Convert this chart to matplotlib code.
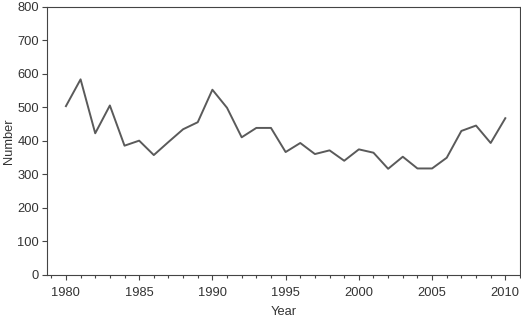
import matplotlib
matplotlib.use('Agg')
import matplotlib.pyplot as plt
from matplotlib.ticker import MultipleLocator

plt.rcParams['font.family'] = ['Liberation Sans', 'DejaVu Sans']

# data
years = list(range(1980, 2011))
number = [504, 584, 423, 506, 386, 401, 358, 397, 435, 456,
          553, 499, 411, 439, 439, 367, 394, 361, 372, 341,
          375, 365, 317, 353, 318, 318, 350, 430, 446, 394, 468]

fig = plt.figure(figsize=(5.21, 3.17), dpi=100)
ax = fig.add_axes([0.090, 0.1325, 0.908, 0.8455])

ax.plot(years, number, color='#5a5a5a', lw=1.4)

ax.set_xlim(1978.7, 2011.0)
ax.set_ylim(0, 800)
ax.xaxis.set_major_locator(MultipleLocator(5))
ax.xaxis.set_minor_locator(MultipleLocator(1))
ax.yaxis.set_major_locator(MultipleLocator(100))

for s in ax.spines.values():
    s.set_color('#444444')
    s.set_linewidth(0.8)
ax.tick_params(which='both', direction='out', color='#444444', labelcolor='#333333', labelsize=9.3)
ax.tick_params(which='major', length=3.6, width=0.8)
ax.tick_params(which='minor', length=2.2, width=0.8)
ax.tick_params(axis='x', pad=5)
ax.tick_params(axis='y', pad=2)

ax.set_xlabel('Year', fontsize=9.3, color='#333333', labelpad=5)
ax.set_ylabel('Number', fontsize=9.3, color='#333333', labelpad=2)

plt.savefig('out.png', dpi=100)
